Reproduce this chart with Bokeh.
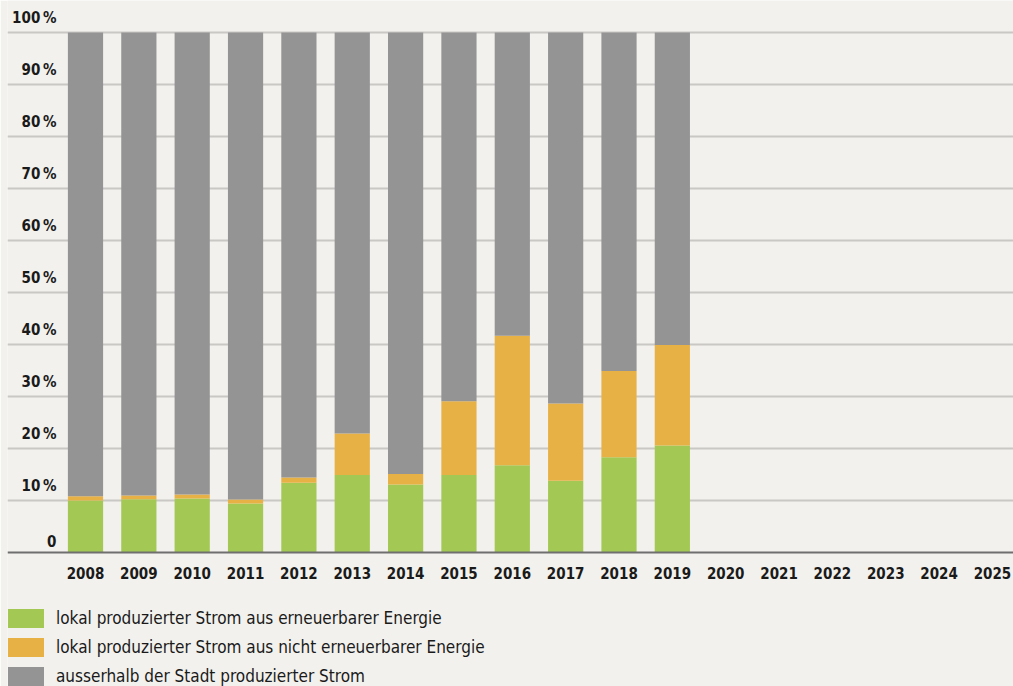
from bokeh.plotting import figure
from bokeh.models import Range1d, FixedTicker, Legend, LegendItem, ColumnDataSource, Span
from bokeh.embed import file_html
from bokeh.resources import INLINE
from bokeh.core.properties import value

# ---- data ----
years = list(range(2008, 2026))
year_labels = [str(y) for y in years]
data_years = list(range(2008, 2020))
local_renewable = [10.0, 10.25, 10.4, 9.4, 13.4, 14.9, 13.1, 14.9, 16.8, 13.8, 18.3, 20.6]
local_nonrenewable = [0.8, 0.7, 0.75, 0.8, 1.0, 8.0, 2.0, 14.2, 24.9, 14.85, 16.6, 19.3]
external = [round(100 - a - b, 2) for a, b in zip(local_renewable, local_nonrenewable)]
series_labels = [
    "lokal produzierter Strom aus erneuerbarer Energie",
    "lokal produzierter Strom aus nicht erneuerbarer Energie",
    "ausserhalb der Stadt produzierter Strom",
]
y_ticks = [0, 10, 20, 30, 40, 50, 60, 70, 80, 90, 100]
y_tick_labels = ["0"] + [f"{t}\u2009%" for t in y_ticks[1:]]

# ---- style ----
BG = "#f2f1ed"
GREEN = "#a3c854"
ORANGE = "#e8b145"
GRAY = "#959494"
FONT = "DejaVu Sans Condensed"

LEFT = 7
W, H = 1013 - LEFT, 686
px_per_pct = 5.2
base_y = 552
px_per_year = 53.35
x_start = 2008 - (85 - LEFT) / px_per_year
x_end = x_start + W / px_per_year
y_start = -(H - base_y) / px_per_pct
y_end = base_y / px_per_pct

p = figure(frame_width=W, frame_height=H, output_backend="svg", toolbar_location=None,
           x_range=Range1d(x_start, x_end), y_range=Range1d(y_start, y_end),
           x_axis_location=None, y_axis_location=None,
           min_border_left=LEFT, min_border_right=0,
           min_border_top=0, min_border_bottom=0)
p.background_fill_color = BG
p.border_fill_color = BG
p.outline_line_color = None

src = ColumnDataSource(dict(year=data_years, g=local_renewable, o=local_nonrenewable, e=external))
rs = p.vbar_stack(["g", "o", "e"], x="year", width=0.66, source=src,
                  color=[GREEN, ORANGE, GRAY], line_color=None)

p.xgrid.visible = False
p.ygrid.ticker = FixedTicker(ticks=y_ticks[1:])
p.ygrid.grid_line_color = "#c9c8c5"
p.ygrid.grid_line_width = 2

p.add_layout(Span(location=0, dimension="width", line_color="#6f6f6f", line_width=2))

# x labels (years) below the baseline
xsrc = ColumnDataSource(dict(x=years, t=year_labels, y=[0] * len(years)))
p.text(x="x", y="y", text="t", source=xsrc, y_offset=14,
       text_align="center", text_baseline="top", text_font=value(FONT),
       text_font_style="bold", text_font_size="15px", text_color="#1a1a1a")

# y labels above their gridlines
ysrc = ColumnDataSource(dict(y=y_ticks, t=y_tick_labels, x=[x_start] * len(y_ticks)))
p.text(x="x", y="y", text="t", source=ysrc, x_offset=56 - LEFT, y_offset=-6,
       text_align="right", text_baseline="bottom", text_font=value(FONT),
       text_font_style="bold", text_font_size="15px", text_color="#1a1a1a")

legend = Legend(items=[LegendItem(label=l, renderers=[r]) for l, r in zip(series_labels, rs)],
                location=(-4, -2), orientation="vertical")
legend.glyph_width = 45
legend.glyph_height = 24
legend.spacing = 5
legend.padding = 0
legend.margin = 0
legend.label_standoff = 8
legend.label_text_font = FONT
legend.label_text_font_size = "17px"
legend.label_text_color = "#1a1a1a"
legend.label_height = 24
legend.border_line_color = None
legend.background_fill_color = BG
legend.background_fill_alpha = 0
p.add_layout(legend)

open("out.html", "w").write(file_html(p, INLINE))
